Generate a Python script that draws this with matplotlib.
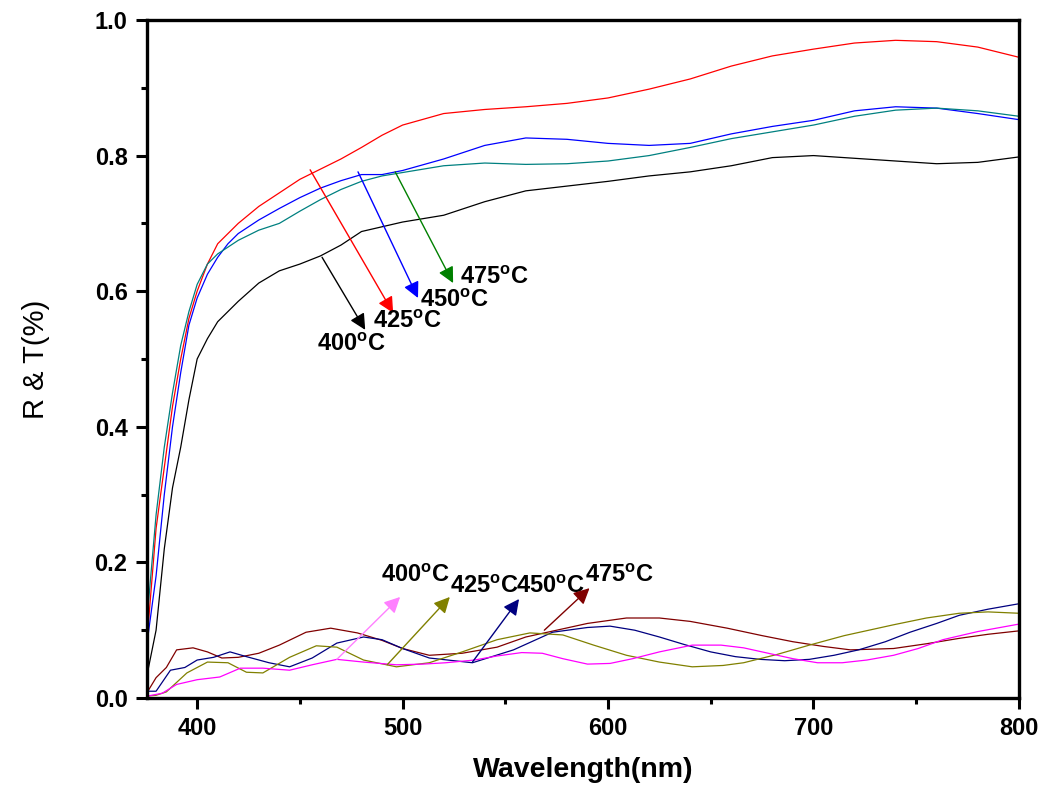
import matplotlib
matplotlib.use("Agg")
import matplotlib.pyplot as plt
from matplotlib.ticker import MultipleLocator

plt.rcParams['font.family'] = ['Liberation Sans', 'DejaVu Sans']
plt.rcParams['mathtext.fontset'] = 'custom'
plt.rcParams['mathtext.rm'] = 'Liberation Sans'
plt.rcParams['mathtext.bf'] = 'Liberation Sans:bold'

# upper curves (common wavelength grid)
wl_up = [376, 380, 384, 388, 392, 396, 400, 405, 410, 415, 420, 430, 440, 450, 460, 470, 480, 490, 500, 520,
         540, 560, 580, 600, 620, 640, 660, 680, 700, 720, 740, 760, 780, 800]
r_400 = [0.04, 0.10, 0.22, 0.31, 0.37, 0.44, 0.50, 0.53, 0.555, 0.57, 0.585, 0.612, 0.630, 0.640, 0.652, 0.668,
         0.688, 0.695, 0.702, 0.712, 0.732, 0.748, 0.755, 0.762, 0.770, 0.776, 0.785, 0.797, 0.800, 0.796,
         0.792, 0.788, 0.790, 0.798]
r_425 = [0.10, 0.25, 0.34, 0.43, 0.50, 0.56, 0.60, 0.64, 0.67, 0.685, 0.70, 0.725, 0.745, 0.765, 0.78, 0.795,
         0.812, 0.83, 0.845, 0.862, 0.868, 0.872, 0.877, 0.885, 0.898, 0.913, 0.932, 0.947, 0.957, 0.966,
         0.970, 0.968, 0.960, 0.945]
r_450 = [0.09, 0.18, 0.30, 0.40, 0.48, 0.55, 0.59, 0.625, 0.65, 0.67, 0.685, 0.705, 0.722, 0.738, 0.752, 0.763,
         0.772, 0.772, 0.778, 0.795, 0.815, 0.826, 0.824, 0.818, 0.815, 0.818, 0.832, 0.843, 0.852, 0.866,
         0.872, 0.870, 0.862, 0.853]
r_475 = [0.13, 0.27, 0.37, 0.45, 0.52, 0.57, 0.61, 0.64, 0.655, 0.665, 0.675, 0.69, 0.70, 0.718, 0.735, 0.75,
         0.762, 0.77, 0.775, 0.785, 0.789, 0.787, 0.788, 0.792, 0.800, 0.812, 0.825, 0.835, 0.845, 0.858,
         0.867, 0.870, 0.866, 0.858]

# lower curves
wl_t400 = [376, 383, 390, 400, 411, 421, 432, 445, 456, 468, 481, 497, 510, 521, 535, 546, 558, 568,
           578, 590, 601, 612, 625, 641, 655, 666, 678, 690, 702, 714, 726, 739, 751, 763, 780, 800]
t_400 = [0.003, 0.007, 0.02, 0.027, 0.031, 0.044, 0.044, 0.041, 0.049, 0.057, 0.053, 0.049, 0.05, 0.052,
         0.056, 0.062, 0.067, 0.066, 0.058, 0.05, 0.051, 0.058, 0.068, 0.078, 0.078, 0.074, 0.066, 0.058,
         0.052, 0.052, 0.056, 0.063, 0.073, 0.086, 0.098, 0.109]
wl_t425 = [376, 380, 385, 395, 405, 415, 424, 432, 445, 458, 468, 481, 497, 513, 529, 546, 562, 578,
           593, 609, 625, 641, 656, 666, 682, 698, 715, 739, 755, 771, 785, 800]
t_425 = [0.003, 0.004, 0.009, 0.037, 0.053, 0.052, 0.038, 0.037, 0.06, 0.077, 0.075, 0.056, 0.046, 0.052,
         0.068, 0.086, 0.096, 0.093, 0.078, 0.063, 0.053, 0.046, 0.048, 0.052, 0.064, 0.078, 0.092, 0.108,
         0.118, 0.125, 0.127, 0.125]
wl_t450 = [376, 380, 387, 394, 400, 408, 416, 424, 435, 445, 456, 468, 481, 490, 500, 513, 534, 554, 573,
           590, 601, 613, 625, 637, 650, 662, 674, 686, 698, 710, 722, 735, 747, 760, 771, 785, 800]
t_450 = [0.01, 0.01, 0.041, 0.045, 0.056, 0.06, 0.068, 0.061, 0.052, 0.046, 0.059, 0.081, 0.09, 0.086,
         0.073, 0.059, 0.052, 0.071, 0.097, 0.104, 0.106, 0.1, 0.09, 0.079, 0.068, 0.061, 0.057, 0.055,
         0.057, 0.063, 0.071, 0.083, 0.097, 0.11, 0.122, 0.131, 0.139]
wl_t475 = [376, 380, 385, 390, 398, 405, 412, 420, 430, 440, 453, 465, 478, 490, 500, 513, 529, 546, 560,
           575, 590, 609, 625, 640, 658, 675, 690, 705, 718, 739, 755, 771, 785, 800]
t_475 = [0.01, 0.03, 0.045, 0.071, 0.074, 0.068, 0.059, 0.06, 0.066, 0.078, 0.097, 0.103, 0.096, 0.085,
         0.073, 0.063, 0.066, 0.075, 0.09, 0.1, 0.11, 0.118, 0.118, 0.113, 0.103, 0.092, 0.083, 0.076,
         0.071, 0.073, 0.08, 0.088, 0.094, 0.099]

fig = plt.figure(figsize=(10.45, 7.99), dpi=100)
ax = fig.add_axes([0.1407, 0.1264, 0.8343, 0.8486])

ax.plot(wl_up, r_425, color='#FF0000', lw=0.9)
ax.plot(wl_up, r_450, color='#0000FF', lw=0.9)
ax.plot(wl_up, r_475, color='#008080', lw=0.9)
ax.plot(wl_up, r_400, color='#000000', lw=0.9)
ax.plot(wl_t475, t_475, color='#800000', lw=0.9)
ax.plot(wl_t450, t_450, color='#000080', lw=0.9)
ax.plot(wl_t425, t_425, color='#808000', lw=0.9)
ax.plot(wl_t400, t_400, color='#FF00FF', lw=0.9)

# arrow labels: (text, text pos, arrow tail, arrow head, colour)
labels = [
    ('400', (458.5, 0.522), (460.8, 0.650), (481.8, 0.543), '#000000'),
    ('425', (485.5, 0.555), (455.0, 0.779), (495.4, 0.568), '#FF0000'),
    ('450', (508.5, 0.587), (478.3, 0.776), (507.5, 0.590), '#0000FF'),
    ('475', (528.0, 0.620), (496.4, 0.776), (524.6, 0.612), '#008000'),
    ('400', (489.5, 0.180), (468.0, 0.057), (498.8, 0.149), '#FF80FF'),
    ('425', (523.0, 0.164), (492.5, 0.049), (523.0, 0.149), '#808000'),
    ('450', (555.0, 0.164), (534.0, 0.053), (556.7, 0.146), '#000080'),
    ('475', (589.0, 0.180), (569.0, 0.100), (591.0, 0.162), '#800000'),
]
for txt, tpos, tail, head, col in labels:
    ax.annotate('', xy=head, xytext=tail,
                arrowprops=dict(arrowstyle='-|>', color=col, lw=1.0,
                                mutation_scale=24, shrinkA=0, shrinkB=0))
    ax.text(tpos[0], tpos[1], txt + r'$^{\mathbf{o}}$C', fontsize=17, fontweight='bold',
            ha='left', va='center')

ax.set_xlim(375.6, 800)
ax.set_ylim(0, 1.0)
ax.xaxis.set_major_locator(MultipleLocator(100))
ax.xaxis.set_minor_locator(MultipleLocator(50))
ax.yaxis.set_major_locator(MultipleLocator(0.2))
ax.yaxis.set_minor_locator(MultipleLocator(0.1))
ax.tick_params(which='major', direction='out', length=8, width=2.2, labelsize=17, pad=6)
ax.tick_params(which='minor', direction='out', length=4, width=2.2)
for lab in ax.get_xticklabels() + ax.get_yticklabels():
    lab.set_fontweight('bold')
for sp in ax.spines.values():
    sp.set_linewidth(2.4)

ax.set_xlabel('Wavelength(nm)', fontsize=20.5, fontweight='bold', labelpad=12)
ax.set_ylabel('R & T(%)', fontsize=21, labelpad=32)

plt.savefig('out.png', dpi=100)
